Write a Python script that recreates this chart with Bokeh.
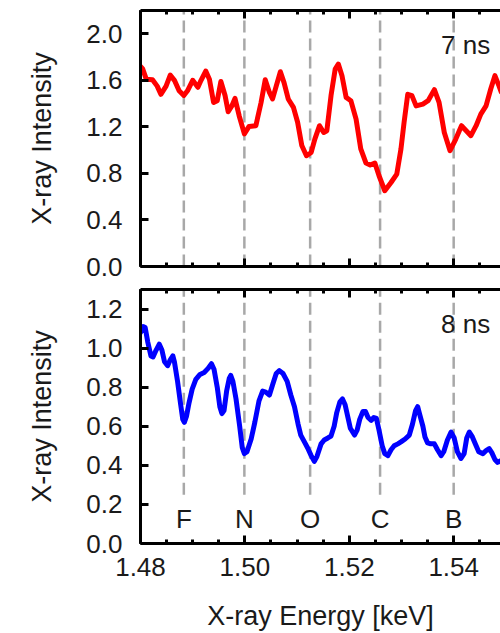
from bokeh.plotting import figure
from bokeh.layouts import column
from bokeh.models import (Range1d, LinearAxis, SingleIntervalTicker, PrintfTickFormatter,
                          CustomJSTickFormatter, Label, Arrow)
from bokeh.embed import file_html
from bokeh.resources import INLINE
from bokeh.core.properties import value

# Spectrum at 7 ns (keV, intensity)
energy_7ns = [1.4800, 1.4804, 1.4811, 1.4823, 1.4832, 1.4839, 1.4849, 1.4857, 1.4865,
              1.4874, 1.4883, 1.4890, 1.4900, 1.4910, 1.4916, 1.4925, 1.4932, 1.4940,
              1.4947, 1.4954, 1.4962, 1.4968, 1.4975, 1.4981, 1.4989, 1.4999, 1.5008,
              1.5021, 1.5031, 1.5039, 1.5047, 1.5053, 1.5060, 1.5068, 1.5075, 1.5083,
              1.5093, 1.5101, 1.5109, 1.5118, 1.5127, 1.5134, 1.5143, 1.5151, 1.5157,
              1.5165, 1.5173, 1.5179, 1.5186, 1.5194, 1.5203, 1.5213, 1.5222, 1.5232,
              1.5240, 1.5249, 1.5257, 1.5268, 1.5280, 1.5291, 1.5299, 1.5305, 1.5312,
              1.5320, 1.5328, 1.5341, 1.5351, 1.5363, 1.5372, 1.5382, 1.5393, 1.5404,
              1.5415, 1.5424, 1.5433, 1.5443, 1.5452, 1.5462, 1.5471, 1.5479, 1.5487,
              1.5491, 1.5500]
intensity_7ns = [1.72, 1.70, 1.61, 1.605, 1.55, 1.48, 1.55, 1.645, 1.60,
                 1.51, 1.47, 1.51, 1.60, 1.54, 1.60, 1.68, 1.61, 1.41,
                 1.425, 1.59, 1.47, 1.33, 1.38, 1.445, 1.296, 1.14, 1.204,
                 1.21, 1.41, 1.605, 1.496, 1.44, 1.55, 1.674, 1.58, 1.44,
                 1.367, 1.24, 1.04, 0.952, 0.98, 1.095, 1.21, 1.152, 1.167,
                 1.468, 1.697, 1.74, 1.64, 1.453, 1.425, 1.267, 1.01, 0.889,
                 0.872, 0.889, 0.78, 0.651, 0.722, 0.794, 1.01, 1.24, 1.48,
                 1.468, 1.38, 1.396, 1.425, 1.52, 1.41, 1.152, 0.995, 1.095,
                 1.21, 1.167, 1.124, 1.21, 1.31, 1.38, 1.525, 1.64, 1.55,
                 1.50, 1.46]

# Spectrum at 8 ns (keV, intensity)
energy_8ns = [1.4800, 1.4805, 1.4809, 1.4814, 1.4820, 1.4824, 1.4830, 1.4836, 1.4841, 1.4846, 1.4852,
              1.4857, 1.4862, 1.4865, 1.4871, 1.4877, 1.4881, 1.4884, 1.4888, 1.4893, 1.4899, 1.4906,
              1.4914, 1.4922, 1.4929, 1.4936, 1.4941, 1.4947, 1.4952, 1.4956, 1.4960, 1.4965, 1.4970,
              1.4973, 1.4977, 1.4983, 1.4990, 1.4995, 1.4999, 1.5004, 1.5012, 1.5019, 1.5027, 1.5034,
              1.5040, 1.5047, 1.5054, 1.5060, 1.5066, 1.5073, 1.5081, 1.5088, 1.5095, 1.5102, 1.5107,
              1.5114, 1.5120, 1.5127, 1.5133, 1.5138, 1.5146, 1.5152, 1.5159, 1.5165, 1.5171, 1.5176,
              1.5182, 1.5187, 1.5192, 1.5197, 1.5202, 1.5210, 1.5215, 1.5220, 1.5226, 1.5231, 1.5236,
              1.5242, 1.5247, 1.5252, 1.5257, 1.5263, 1.5268, 1.5274, 1.5280, 1.5286, 1.5293, 1.5299,
              1.5307, 1.5315, 1.5321, 1.5327, 1.5331, 1.5335, 1.5341, 1.5345, 1.5350, 1.5356, 1.5363,
              1.5369, 1.5376, 1.5381, 1.5388, 1.5395, 1.5401, 1.5407, 1.5414, 1.5420, 1.5425, 1.5430,
              1.5435, 1.5443, 1.5448, 1.5456, 1.5462, 1.5468, 1.5473, 1.5479, 1.5484, 1.5491, 1.5500]
intensity_8ns = [1.08, 1.11, 1.105, 1.03, 0.96, 0.955, 0.99, 1.02, 0.99, 0.93, 0.91,
                 0.94, 0.96, 0.93, 0.83, 0.71, 0.635, 0.62, 0.65, 0.72, 0.79, 0.84,
                 0.865, 0.875, 0.895, 0.92, 0.89, 0.80, 0.70, 0.665, 0.68, 0.78, 0.845,
                 0.86, 0.83, 0.74, 0.60, 0.49, 0.46, 0.47, 0.535, 0.62, 0.73, 0.78,
                 0.775, 0.76, 0.82, 0.87, 0.885, 0.87, 0.83, 0.76, 0.70, 0.61, 0.555,
                 0.52, 0.49, 0.45, 0.42, 0.445, 0.51, 0.53, 0.54, 0.55, 0.60, 0.67,
                 0.725, 0.74, 0.71, 0.65, 0.59, 0.555, 0.58, 0.635, 0.675, 0.675, 0.645,
                 0.63, 0.645, 0.64, 0.58, 0.50, 0.46, 0.45, 0.48, 0.50, 0.51, 0.52,
                 0.535, 0.555, 0.61, 0.68, 0.70, 0.66, 0.60, 0.545, 0.515, 0.51, 0.51,
                 0.48, 0.45, 0.47, 0.53, 0.57, 0.54, 0.47, 0.435, 0.46, 0.54, 0.57,
                 0.55, 0.50, 0.47, 0.46, 0.475, 0.485, 0.465, 0.43, 0.415, 0.425, 0.44]

# Reference line positions and their labels
line_names = ["F", "N", "O", "C", "B"]
line_energies = [1.4883, 1.4999, 1.5125, 1.5259, 1.5400]

X_START, X_END = 1.48, 1.54897
FONT = "Liberation Sans"
TEXT_COLOR = "#1a1a1a"
DASH_COLOR = "#a8a8a8"
DASH = "12 6"

x_range = Range1d(X_START, X_END)


def x_ticker():
    return SingleIntervalTicker(interval=0.02, num_minor_ticks=4)


def style_axis(ax, show_labels):
    ax.axis_line_width = 3
    ax.axis_line_color = "black"
    ax.major_tick_line_width = 3
    ax.minor_tick_line_width = 3
    ax.major_tick_in = 8
    ax.major_tick_out = 0
    ax.minor_tick_in = 4
    ax.minor_tick_out = 0
    ax.major_label_text_font = FONT
    ax.major_label_text_color = TEXT_COLOR
    ax.major_label_text_font_size = "26px"
    ax.axis_label_text_font = FONT
    ax.axis_label_text_font_style = "normal"
    ax.axis_label_text_color = TEXT_COLOR
    if not show_labels:
        ax.formatter = CustomJSTickFormatter(code="return ''")
        ax.major_label_standoff = 0


def dashed_overhang(p, y_from, y_to):
    # carries the reference lines out of the frame into the space between panels
    for e in line_energies:
        p.add_layout(Arrow(x_start=e, y_start=y_from, x_end=e, y_end=y_to,
                           start=None, end=None, line_color=DASH_COLOR,
                           line_width=2.5, line_dash=DASH, level="underlay"))


def panel(xs, ys, color, y_max, y_step, tag, height, border_top, border_bottom, show_x, dash_bottom):
    p = figure(width=500, height=height, x_range=x_range, y_range=Range1d(0, y_max),
               output_backend="svg", toolbar_location=None,
               min_border_left=140, min_border_right=0,
               min_border_top=border_top, min_border_bottom=border_bottom,
               x_axis_location="below")
    p.outline_line_color = None
    p.grid.visible = False
    p.background_fill_color = "white"
    p.border_fill_color = "white"

    p.xaxis.ticker = x_ticker()
    p.xaxis.formatter = PrintfTickFormatter(format="%.2f")
    style_axis(p.xaxis[0], show_x)
    if show_x:
        p.xaxis.axis_label = "X-ray Energy [keV]"
        p.xaxis.axis_label_text_font_size = "27px"
        p.xaxis.major_label_standoff = 14
        p.xaxis.axis_label_standoff = 22

    top = LinearAxis(ticker=x_ticker())
    style_axis(top, False)
    p.add_layout(top, "above")

    p.yaxis.ticker = SingleIntervalTicker(interval=y_step, num_minor_ticks=0)
    p.yaxis.formatter = PrintfTickFormatter(format="%.1f")
    style_axis(p.yaxis[0], True)
    p.yaxis.major_label_standoff = 18
    p.yaxis.axis_label = "X-ray Intensity"
    p.yaxis.axis_label_text_font_size = "27px"
    p.yaxis.axis_label_standoff = 26

    p.segment(x0=line_energies, y0=[dash_bottom] * len(line_energies),
              x1=line_energies, y1=[y_max] * len(line_energies),
              line_color=DASH_COLOR, line_width=2.5, line_dash=DASH)
    p.line(xs, ys, line_color=color, line_width=5, line_join="round", line_cap="round")

    p.add_layout(Label(x=1.5470, y=y_max * 0.865, text=tag, text_align="right",
                       text_baseline="alphabetic", text_font=FONT, text_font_size="26px",
                       text_color=TEXT_COLOR))
    return p


TOP_H, TOP_BORDER_BOTTOM = 286, 20
BOTTOM_H, BOTTOM_BORDER_TOP = 347, 3

top_panel = panel(energy_7ns, intensity_7ns, "#ff0000", 2.2, 0.4, "7 ns",
                  height=TOP_H, border_top=10, border_bottom=TOP_BORDER_BOTTOM,
                  show_x=False, dash_bottom=0.0)
dashed_overhang(top_panel, 0.0, -0.3)

bottom_panel = panel(energy_8ns, intensity_8ns, "#0000ff", 1.3, 0.2, "8 ns",
                     height=BOTTOM_H, border_top=BOTTOM_BORDER_TOP, border_bottom=88,
                     show_x=True, dash_bottom=0.25)
dashed_overhang(bottom_panel, 1.3, 1.4)
bottom_panel.text(x=line_energies, y=[0.125] * len(line_energies), text=line_names,
                  text_align="center", text_baseline="middle",
                  text_font=value(FONT), text_font_size="26px", text_color=TEXT_COLOR)

layout = column(top_panel, bottom_panel, spacing=0)

with open("out.html", "w") as f:
    f.write(file_html(layout, INLINE))
